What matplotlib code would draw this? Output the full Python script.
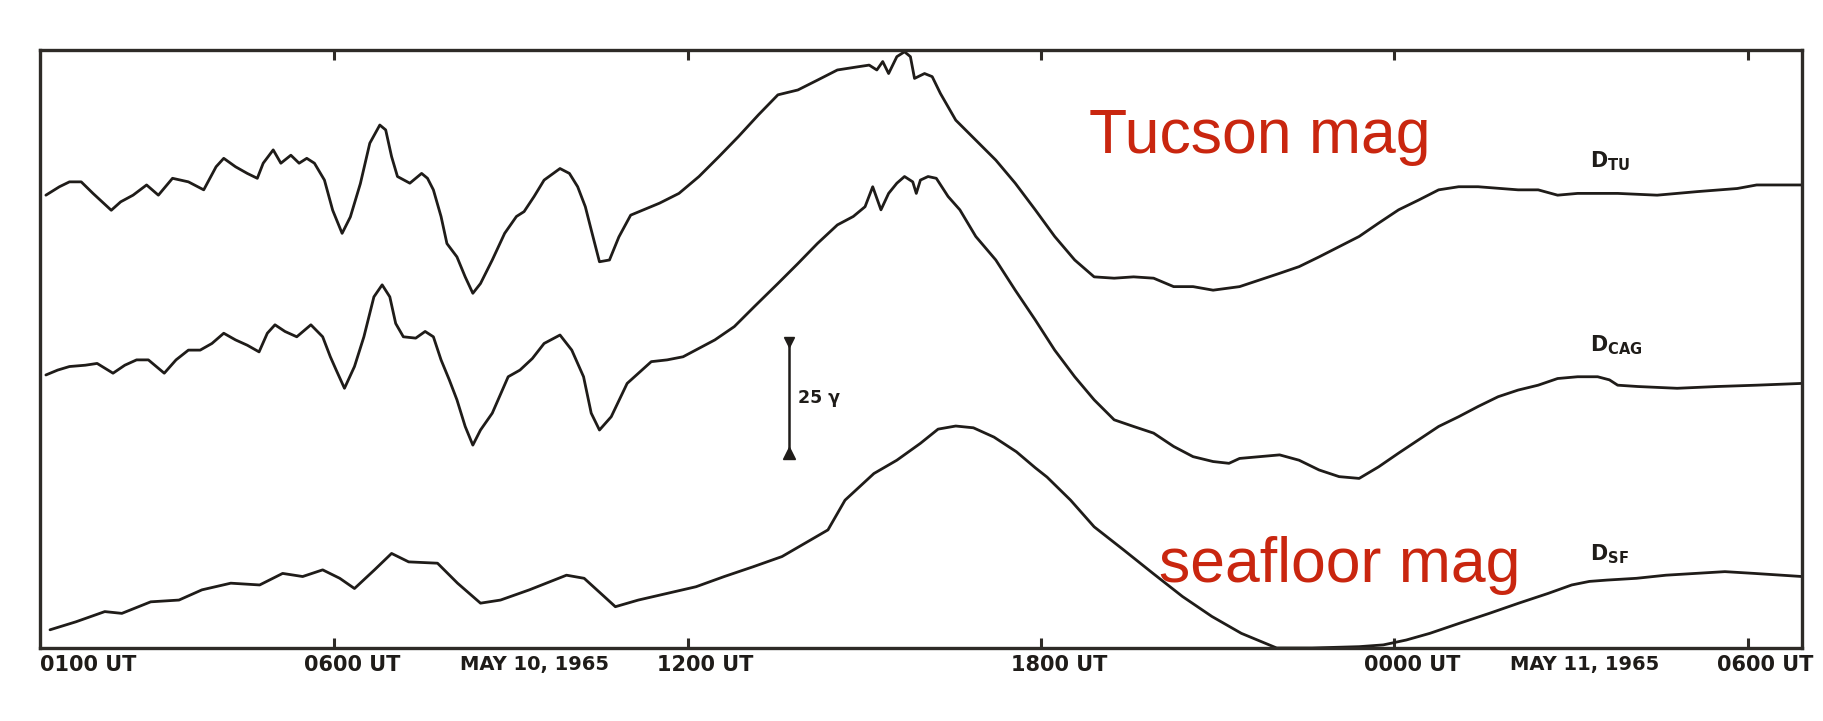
import matplotlib
matplotlib.use("Agg")
import matplotlib.pyplot as plt

# Magnetograms, 10-11 May 1965: hours counted from 0000 UT on May 10,
# values in gamma (traces stacked with their own offsets)
tu_hours = [1.10, 1.33, 1.50, 1.70, 1.90, 2.21, 2.37, 2.58, 2.81, 3.01, 3.25, 3.52, 3.78, 3.99, 4.12,
            4.32, 4.52, 4.69, 4.79, 4.96, 5.09, 5.26, 5.40, 5.53, 5.66, 5.83, 5.97, 6.13, 6.27, 6.44,
            6.60, 6.77, 6.87, 6.97, 7.07, 7.28, 7.48, 7.58, 7.68, 7.81, 7.91, 8.08, 8.22, 8.35, 8.48,
            8.68, 8.89, 9.09, 9.22, 9.39, 9.56, 9.83, 9.99, 10.13, 10.26, 10.36, 10.50, 10.67, 10.83,
            11.03, 11.52, 11.85, 12.19, 12.53, 12.86, 13.20, 13.53, 13.87, 14.20, 14.54, 14.88, 15.08,
            15.21, 15.31, 15.41, 15.55, 15.68, 15.78, 15.85, 16.02, 16.15, 16.29, 16.55, 16.89, 17.23,
            17.56, 17.90, 18.23, 18.57, 18.90, 19.24, 19.57, 19.91, 20.25, 20.58, 20.92, 21.37, 21.71,
            22.05, 22.38, 22.72, 23.06, 23.40, 23.73, 24.07, 24.41, 24.75, 25.09, 25.42, 26.10, 26.44,
            26.77, 27.11, 27.79, 28.46, 29.14, 29.82, 30.15, 30.92]
tu_gamma = [102.0, 103.9, 105.0, 105.0, 102.4, 98.6, 100.5, 102.0, 104.3, 102.0, 105.8, 105.0, 103.2,
            108.4, 110.3, 108.4, 106.9, 105.8, 109.2, 112.2, 109.2, 111.0, 109.2, 110.3, 109.2, 105.4,
            98.6, 93.4, 97.1, 104.6, 113.7, 117.8, 116.7, 110.7, 106.2, 104.7, 106.9, 105.8, 103.2,
            97.2, 91.1, 88.1, 83.6, 79.9, 82.1, 87.4, 93.4, 97.2, 98.3, 101.7, 105.4, 108.0, 106.9,
            103.9, 99.4, 94.2, 87.0, 87.4, 92.6, 97.5, 100.2, 102.4, 106.2, 110.7, 115.2, 120.1, 124.6,
            125.7, 127.9, 130.2, 130.9, 131.3, 130.2, 132.1, 129.4, 133.2, 134.3, 133.2, 128.3, 129.4,
            128.7, 124.9, 118.9, 114.4, 109.9, 104.7, 98.7, 92.7, 87.4, 83.6, 83.3, 83.6, 83.3, 81.4,
            81.4, 80.6, 81.4, 82.9, 84.4, 85.9, 88.1, 90.4, 92.7, 95.7, 98.7, 100.9, 103.2, 103.9,
            103.9, 103.2, 103.2, 102.0, 102.4, 102.4, 102.0, 102.8, 103.5, 104.3, 104.3]

cag_hours = [1.10, 1.30, 1.50, 1.77, 1.97, 2.24, 2.44, 2.64, 2.84, 3.11, 3.31, 3.52, 3.72, 3.92, 4.12,
             4.32, 4.52, 4.72, 4.86, 4.99, 5.16, 5.36, 5.60, 5.80, 5.93, 6.03, 6.17, 6.34, 6.50, 6.67,
             6.81, 6.94, 7.04, 7.17, 7.38, 7.54, 7.68, 7.81, 7.95, 8.08, 8.22, 8.35, 8.48, 8.68, 8.95,
             9.15, 9.36, 9.56, 9.83, 10.03, 10.23, 10.36, 10.50, 10.70, 10.97, 11.38, 11.65, 11.92,
             12.19, 12.46, 12.79, 13.13, 13.53, 13.87, 14.20, 14.54, 14.81, 15.01, 15.14, 15.28, 15.41,
             15.55, 15.68, 15.82, 15.88, 15.95, 16.08, 16.22, 16.42, 16.62, 16.89, 17.23, 17.56, 17.90,
             18.23, 18.57, 18.90, 19.24, 19.57, 19.91, 20.25, 20.58, 20.92, 21.19, 21.37, 21.71, 22.05,
             22.38, 22.72, 23.06, 23.40, 23.73, 24.07, 24.41, 24.75, 25.09, 25.42, 25.76, 26.10, 26.44,
             26.77, 27.11, 27.45, 27.65, 27.79, 28.13, 28.80, 29.48, 30.15, 30.92]
cag_gamma = [61.5, 62.6, 63.4, 63.7, 64.1, 61.9, 63.7, 64.9, 64.9, 61.9, 64.9, 67.1, 67.1, 68.6, 70.9,
             69.4, 68.2, 66.7, 70.9, 72.8, 71.3, 70.1, 72.8, 70.1, 65.6, 62.6, 58.5, 63.4, 70.1, 79.1,
             81.8, 79.1, 73.1, 70.1, 69.8, 71.3, 70.1, 64.9, 60.4, 55.9, 49.9, 45.7, 49.1, 52.9, 61.1,
             62.6, 65.2, 68.6, 70.5, 67.1, 61.1, 52.9, 49.1, 52.1, 59.6, 64.5, 64.9, 65.6, 67.5, 69.4,
             72.4, 76.9, 82.1, 86.6, 91.1, 95.3, 97.2, 99.4, 103.9, 98.7, 102.4, 104.7, 106.2, 105.0,
             102.4, 105.4, 106.2, 105.8, 101.7, 98.7, 92.7, 87.4, 80.6, 73.9, 67.1, 61.1, 55.9, 51.4,
             49.9, 48.4, 45.4, 43.1, 42.0, 41.6, 42.7, 43.1, 43.5, 42.3, 40.1, 38.6, 38.2, 40.8, 43.9,
             46.9, 49.9, 52.1, 54.4, 56.6, 58.1, 59.2, 60.7, 61.1, 61.1, 60.4, 59.2, 58.9, 58.5, 58.9,
             59.2, 59.6]

sf_hours = [1.17, 1.61, 2.10, 2.39, 2.88, 3.36, 3.75, 4.24, 4.73, 5.12, 5.46, 5.80, 6.09, 6.34, 6.68,
            6.97, 7.26, 7.75, 8.09, 8.48, 8.82, 9.31, 9.94, 10.24, 10.58, 10.77, 11.16, 11.65, 12.14,
            12.62, 13.11, 13.60, 13.99, 14.38, 14.67, 15.16, 15.55, 15.95, 16.25, 16.55, 16.85, 17.20,
            17.58, 17.90, 18.10, 18.50, 18.90, 19.40, 19.90, 20.40, 20.90, 21.40, 22.00, 22.60, 23.40,
            23.81, 24.20, 24.60, 25.11, 25.61, 26.11, 26.61, 27.01, 27.31, 27.61, 28.11, 28.61, 29.11,
            29.61, 30.11, 30.92]
sf_gamma = [4.1, 5.9, 8.2, 7.8, 10.4, 10.8, 13.1, 14.6, 14.2, 16.8, 16.1, 17.6, 15.7, 13.4, 17.6, 21.3,
            19.4, 19.1, 14.6, 10.1, 10.8, 13.1, 16.4, 15.7, 11.6, 9.3, 10.8, 12.3, 13.8, 16.1, 18.3,
            20.6, 23.6, 26.6, 33.3, 39.3, 42.3, 46.1, 49.3, 50.0, 49.6, 47.5, 44.2, 40.6, 38.5, 33.3,
            27.3, 22.1, 16.8, 11.6, 7.1, 3.3, 0.0, 0.0, 0.3, 0.7, 1.8, 3.3, 5.6, 7.8, 10.1, 12.3, 14.2,
            15.0, 15.3, 15.7, 16.4, 16.8, 17.2, 16.8, 16.1]

tick_hours = [1, 6, 12, 18, 24, 30]
tick_labels = ["0100 UT", "0600 UT", "1200 UT", "1800 UT", "0000 UT", "0600 UT"]
date_labels = ["MAY 10, 1965", "MAY 11, 1965"]
trace_names = [r"$\mathbf{D_{TU}}$", r"$\mathbf{D_{CAG}}$", r"$\mathbf{D_{SF}}$"]
scale_bar_gamma = 25

ink = "#1f1c19"
red = "#c9260f"

fig = plt.figure(figsize=(18.24, 7.21), dpi=100, facecolor="white")
ax = fig.add_axes([40 / 1824, 1 - 648 / 721, 1762 / 1824, 598 / 721])
ax.set_xlim(1.0, 30.92)
ax.set_ylim(0, 134.7)
ax.set_facecolor("white")

for hours, gamma in [(tu_hours, tu_gamma), (cag_hours, cag_gamma), (sf_hours, sf_gamma)]:
    ax.plot(hours, gamma, color=ink, lw=2.0, solid_joinstyle="round", solid_capstyle="round",
            clip_on=False)

for side in ["left", "right", "top", "bottom"]:
    ax.spines[side].set_color("#2e2b27")
    ax.spines[side].set_linewidth(2.4)

ax.set_yticks([])
ax.set_xticks(tick_hours[1:])
ax.tick_params(axis="x", direction="in", length=7, width=2.2, color="#2e2b27",
               top=True, labelbottom=False)

# time labels hang below the axis, starting a little left of each tick
for i, (hour, label) in enumerate(zip(tick_hours, tick_labels)):
    dx = 0 if i == 0 else -22
    ax.annotate(label, xy=(hour, 0), xycoords=("data", "axes fraction"),
                xytext=(dx, -5), textcoords="offset points", ha="left", va="top",
                fontsize=15, fontweight="bold", color=ink)
for hour, label in zip([8.13, 25.97], date_labels):
    ax.annotate(label, xy=(hour, 0), xycoords=("data", "axes fraction"),
                xytext=(0, -5), textcoords="offset points", ha="left", va="top",
                fontsize=14, fontweight="bold", color=ink)

# trace names near the right edge
for name, level in zip(trace_names, [108.3, 66.7, 19.8]):
    ax.text(27.32, level, name, fontsize=15, color=ink, va="baseline", ha="left")

# 25 gamma scale bar
bar_x, bar_low = 13.72, 43.9
ax.plot([bar_x, bar_x], [bar_low, bar_low + scale_bar_gamma], color=ink, lw=1.8)
ax.plot(bar_x, bar_low + scale_bar_gamma, marker="v", ms=7, color=ink)
ax.plot(bar_x, bar_low, marker="^", ms=8, color=ink)
ax.text(bar_x + 0.15, bar_low + scale_bar_gamma / 2, f"{scale_bar_gamma} γ", fontsize=12.5,
        fontweight="bold", color=ink, va="center", ha="left")

ax.text(18.81, 111.5, "Tucson mag", fontsize=45, family="Liberation Sans", color=red,
        va="baseline", ha="left")
ax.text(20.0, 14.9, "seafloor mag", fontsize=45, family="Liberation Sans", color=red,
        va="baseline", ha="left")

fig.savefig("out.png", dpi=100, facecolor="white")
